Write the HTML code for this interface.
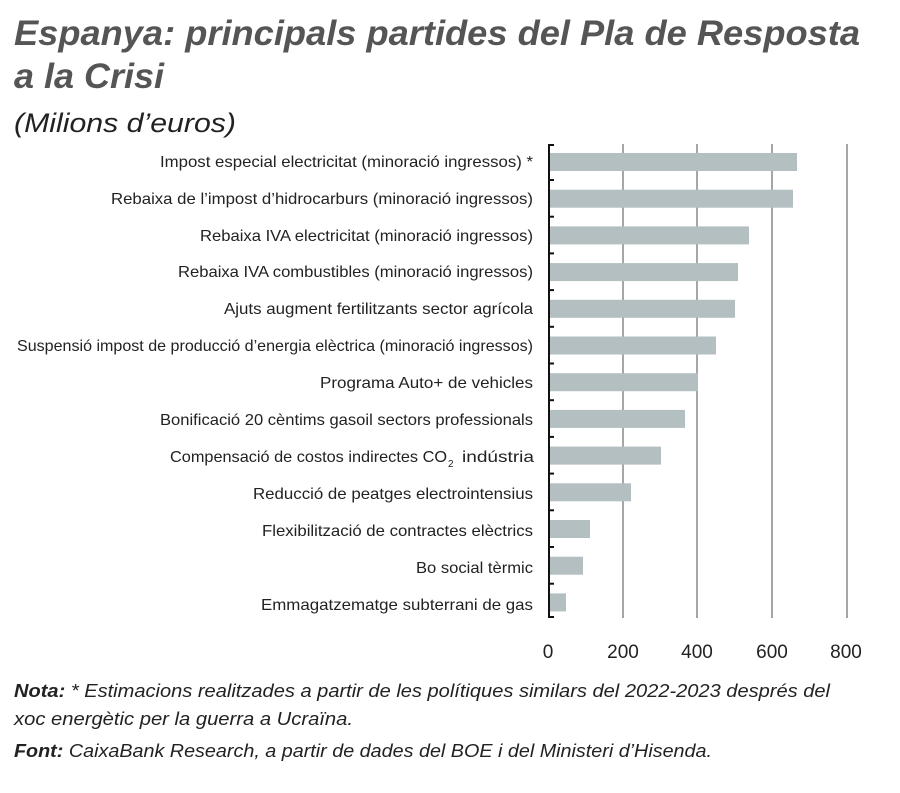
<!DOCTYPE html>
<html><head><meta charset="utf-8"><style>
html,body{margin:0;padding:0;background:#fff;}
svg{display:block;font-family:"Liberation Sans",sans-serif;}
</style></head><body>
<svg width="900" height="793" viewBox="0 0 900 793">
<g fill="#555" font-weight="bold" font-style="italic" font-size="35">
<text x="14" y="45" textLength="846" lengthAdjust="spacingAndGlyphs">Espanya: principals partides del Pla de Resposta</text>
<text x="14" y="88" textLength="150" lengthAdjust="spacingAndGlyphs">a la Crisi</text>
</g>
<text x="14" y="132" font-style="italic" font-size="27" fill="#222" textLength="222" lengthAdjust="spacingAndGlyphs">(Milions d’euros)</text>
<g stroke="#888" stroke-width="1.5">
<line x1="623" y1="144" x2="623" y2="618"/><line x1="697" y1="144" x2="697" y2="618"/>
<line x1="772" y1="144" x2="772" y2="618"/><line x1="847" y1="144" x2="847" y2="618"/>
</g>
<g fill="#b3bfc0">
<rect x="549" y="153" width="248" height="18"/>
<rect x="549" y="189.7" width="244" height="18"/>
<rect x="549" y="226.4" width="200" height="18"/>
<rect x="549" y="263.1" width="189" height="18"/>
<rect x="549" y="299.8" width="186" height="18"/>
<rect x="549" y="336.5" width="167" height="18"/>
<rect x="549" y="373.2" width="149" height="18"/>
<rect x="549" y="409.9" width="136" height="18"/>
<rect x="549" y="446.6" width="112" height="18"/>
<rect x="549" y="483.3" width="82" height="18"/>
<rect x="549" y="520" width="41" height="18"/>
<rect x="549" y="556.7" width="34" height="18"/>
<rect x="549" y="593.4" width="17" height="18"/>
</g>
<g stroke="#111" stroke-width="2">
<line x1="549" y1="144" x2="549" y2="618"/>
<line x1="548" y1="145" x2="554" y2="145"/><line x1="548" y1="180" x2="554" y2="180"/>
<line x1="548" y1="216.7" x2="554" y2="216.7"/><line x1="548" y1="253.4" x2="554" y2="253.4"/>
<line x1="548" y1="290.1" x2="554" y2="290.1"/><line x1="548" y1="326.8" x2="554" y2="326.8"/>
<line x1="548" y1="363.5" x2="554" y2="363.5"/><line x1="548" y1="400.2" x2="554" y2="400.2"/>
<line x1="548" y1="436.9" x2="554" y2="436.9"/><line x1="548" y1="473.6" x2="554" y2="473.6"/>
<line x1="548" y1="510.3" x2="554" y2="510.3"/><line x1="548" y1="547" x2="554" y2="547"/>
<line x1="548" y1="583.7" x2="554" y2="583.7"/><line x1="548" y1="617" x2="554" y2="617"/>
</g>
<g font-size="16" fill="#222" text-anchor="end">
<text x="533" y="167" textLength="373" lengthAdjust="spacingAndGlyphs">Impost especial electricitat (minoració ingressos) *</text>
<text x="533" y="204" textLength="422" lengthAdjust="spacingAndGlyphs">Rebaixa de l’impost d’hidrocarburs (minoració ingressos)</text>
<text x="533" y="241" textLength="333" lengthAdjust="spacingAndGlyphs">Rebaixa IVA electricitat (minoració ingressos)</text>
<text x="533" y="277" textLength="355" lengthAdjust="spacingAndGlyphs">Rebaixa IVA combustibles (minoració ingressos)</text>
<text x="533" y="314" textLength="309" lengthAdjust="spacingAndGlyphs">Ajuts augment fertilitzants sector agrícola</text>
<text x="533" y="351" textLength="516" lengthAdjust="spacingAndGlyphs">Suspensió impost de producció d’energia elèctrica (minoració ingressos)</text>
<text x="533" y="388" textLength="213" lengthAdjust="spacingAndGlyphs">Programa Auto+ de vehicles</text>
<text x="533" y="425" textLength="373" lengthAdjust="spacingAndGlyphs">Bonificació 20 cèntims gasoil sectors professionals</text>
<text x="533" y="499" textLength="280" lengthAdjust="spacingAndGlyphs">Reducció de peatges electrointensius</text>
<text x="533" y="536" textLength="271" lengthAdjust="spacingAndGlyphs">Flexibilització de contractes elèctrics</text>
<text x="533" y="573" textLength="117" lengthAdjust="spacingAndGlyphs">Bo social tèrmic</text>
<text x="533" y="610" textLength="272" lengthAdjust="spacingAndGlyphs">Emmagatzematge subterrani de gas</text>
</g>
<g font-size="16" fill="#222">
<text x="170" y="462" textLength="277" lengthAdjust="spacingAndGlyphs">Compensació de costos indirectes CO</text>
<text x="448" y="467" font-size="10">2</text>
<text x="462" y="462" textLength="72" lengthAdjust="spacingAndGlyphs">indústria</text>
</g>
<g font-size="19" fill="#222" text-anchor="middle">
<text x="548" y="658">0</text><text x="623" y="658">200</text><text x="697" y="658">400</text>
<text x="772" y="658">600</text><text x="846" y="658">800</text>
</g>
<g font-size="18" fill="#222" font-style="italic">
<text x="14" y="697" textLength="816" lengthAdjust="spacingAndGlyphs"><tspan font-weight="bold">Nota:</tspan> * Estimacions realitzades a partir de les polítiques similars del 2022-2023 després del</text>
<text x="14" y="725" textLength="339" lengthAdjust="spacingAndGlyphs">xoc energètic per la guerra a Ucraïna.</text>
<text x="14" y="757" textLength="698" lengthAdjust="spacingAndGlyphs"><tspan font-weight="bold">Font:</tspan> CaixaBank Research, a partir de dades del BOE i del Ministeri d’Hisenda.</text>
</g>
</svg>
</body></html>
